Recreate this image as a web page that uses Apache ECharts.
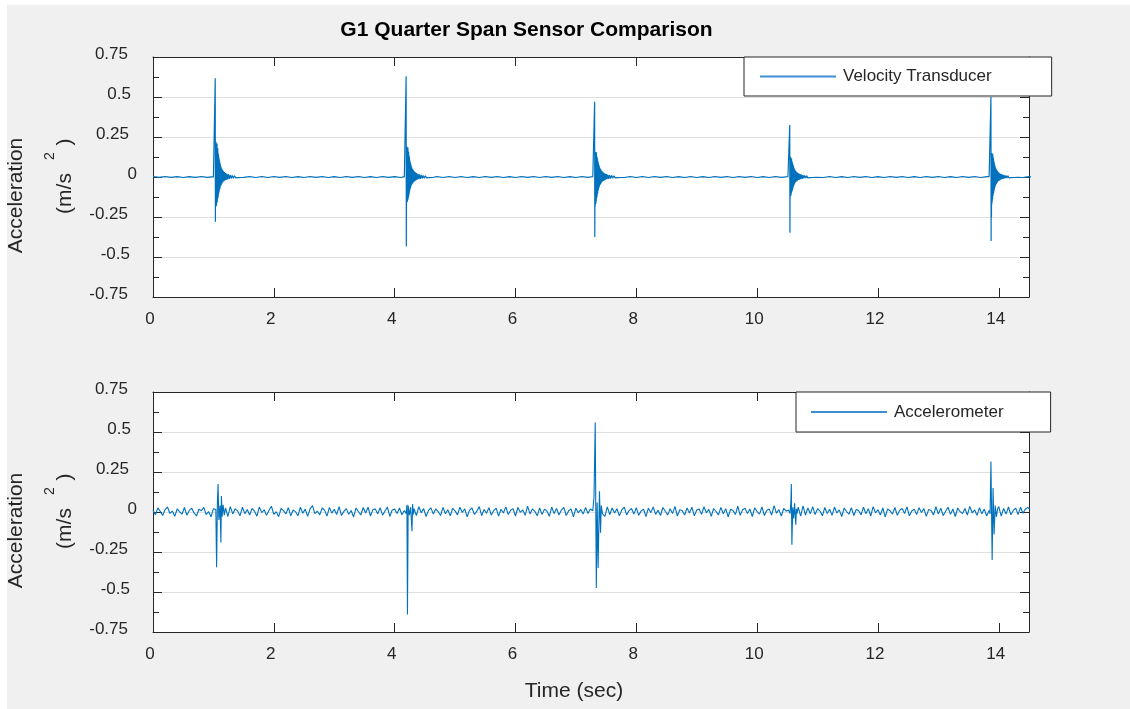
<!DOCTYPE html>
<html>
<head>
<meta charset="utf-8">
<title>G1 Quarter Span Sensor Comparison</title>
<script src="https://cdn.jsdelivr.net/npm/echarts@6/dist/echarts.min.js"></script>
<style>
html, body { margin: 0; padding: 0; background: #ffffff; }
#chart { position: absolute; left: 7px; top: 5px; width: 1123px; height: 704px; }
</style>
</head>
<body>
<div id="chart"></div>
<script>
// ---- Text ----
const titleText = 'G1 Quarter Span Sensor Comparison';
const timeAxisTitle = 'Time (sec)';
const accelAxisTitle = 'Acceleration';
const seriesNames = ['Velocity Transducer', 'Accelerometer'];

// ---- Axes ----
const timeRange = [0, 14.5];
const timeTickStep = 2;
const timeTickLabels = ['0', '2', '4', '6', '8', '10', '12', '14'];
const accelRange = [-0.75, 0.75];
const accelTickStep = 0.25;
const accelTickLabels = ['-0.75', '-0.5', '-0.25', '0', '0.25', '0.5', '0.75'];

// ---- Velocity transducer (m/s^2) ----
// Quiet record, one value every 0.1 s from t = 0; null where an impact record takes over.
const velQuietStep = 0.1;
const velQuiet = [
  0.002,-0.002,0.003,-0.002,0.002,-0.003,0.002,-0.002,0.003,-0.002,
  null,null,null,null,null,-0.002,0.003,-0.003,0.003,-0.003,
  0.003,-0.002,0.003,-0.003,0.002,-0.003,0.003,-0.002,0.003,-0.003,
  0.002,-0.003,0.003,-0.002,0.003,-0.003,0.002,-0.003,0.003,-0.002,
  0.002,-0.003,null,null,null,null,null,0.003,-0.003,0.003,
  -0.003,0.003,-0.003,0.002,-0.003,0.003,-0.002,0.003,-0.003,0.002,
  -0.003,0.003,-0.002,0.003,-0.003,0.003,-0.002,0.003,-0.003,0.002,
  -0.003,0.003,-0.002,null,null,null,null,null,-0.003,0.003,
  -0.003,0.003,-0.003,0.003,-0.002,0.003,-0.003,0.002,-0.003,0.003,
  -0.003,0.002,-0.003,0.003,-0.002,0.003,-0.003,0.003,-0.002,0.003,
  -0.003,0.002,-0.003,0.003,-0.002,null,null,null,null,null,
  0.003,-0.003,0.003,-0.003,0.002,-0.003,0.003,-0.002,0.003,-0.003,
  0.002,-0.003,0.003,-0.002,0.003,-0.003,0.002,-0.003,0.003,-0.002,
  0.003,-0.003,0.002,-0.003,0.003,-0.002,0.003,-0.003,0.002,null,
  null,null,null,null,-0.003,0.002,-0.002
];
// Impact responses, [time s, acceleration]
const velImpact1 = [
  [1.000,0.002],[1.020,-0.003],[1.026,0.008],[1.030,0.617],[1.033,-0.280],[1.036,0.140],
  [1.039,-0.186],[1.042,0.220],[1.045,-0.170],[1.048,0.205],[1.051,-0.180],[1.054,0.190],
  [1.057,-0.150],[1.060,0.210],[1.063,-0.160],[1.066,0.175],[1.069,-0.140],[1.072,0.180],
  [1.075,-0.130],[1.078,0.150],[1.081,-0.120],[1.084,0.140],[1.087,-0.105],[1.090,0.125],
  [1.094,-0.095],[1.098,0.110],[1.102,-0.080],[1.106,0.095],[1.110,-0.070],[1.115,0.080],
  [1.120,-0.058],[1.125,0.066],[1.131,-0.048],[1.137,0.054],[1.143,-0.040],[1.150,0.045],
  [1.157,-0.033],[1.165,0.037],[1.173,-0.027],[1.182,0.031],[1.191,-0.022],[1.201,0.025],
  [1.212,-0.018],[1.224,0.020],[1.236,-0.015],[1.249,0.016],[1.263,-0.012],[1.278,0.013],
  [1.294,-0.009],[1.311,0.010],[1.329,-0.007],[1.348,0.008],[1.368,-0.005],[1.390,0.006],
  [1.414,-0.004],[1.440,0.004],[1.466,-0.003]
];
const velImpact2 = [
  [4.160,0.002],[4.180,-0.003],[4.186,0.010],[4.190,0.630],[4.193,-0.435],[4.196,0.120],
  [4.199,-0.160],[4.202,0.190],[4.205,-0.150],[4.208,0.180],[4.211,-0.155],[4.214,0.170],
  [4.217,-0.135],[4.220,0.185],[4.223,-0.140],[4.226,0.160],[4.229,-0.125],[4.232,0.155],
  [4.235,-0.115],[4.238,0.135],[4.241,-0.105],[4.244,0.125],[4.247,-0.090],[4.250,0.110],
  [4.254,-0.080],[4.258,0.095],[4.262,-0.070],[4.266,0.082],[4.270,-0.060],[4.275,0.070],
  [4.280,-0.052],[4.285,0.060],[4.291,-0.044],[4.297,0.050],[4.303,-0.037],[4.310,0.042],
  [4.317,-0.031],[4.325,0.035],[4.333,-0.026],[4.342,0.030],[4.351,-0.021],[4.361,0.025],
  [4.372,-0.017],[4.384,0.020],[4.396,-0.014],[4.409,0.016],[4.423,-0.011],[4.438,0.013],
  [4.454,-0.009],[4.471,0.010],[4.489,-0.007],[4.508,0.008],[4.528,-0.005],[4.550,0.006],
  [4.574,-0.004],[4.600,0.004],[4.626,-0.003]
];
const velImpact3 = [
  [7.280,0.003],[7.300,-0.003],[7.306,0.009],[7.310,0.470],[7.313,-0.375],[7.316,0.100],
  [7.319,-0.185],[7.322,0.158],[7.325,-0.170],[7.328,0.150],[7.331,-0.165],[7.334,0.140],
  [7.337,-0.150],[7.340,0.155],[7.343,-0.135],[7.346,0.130],[7.349,-0.125],[7.352,0.125],
  [7.355,-0.110],[7.358,0.112],[7.361,-0.100],[7.364,0.100],[7.367,-0.088],[7.370,0.090],
  [7.374,-0.078],[7.378,0.080],[7.382,-0.068],[7.386,0.070],[7.390,-0.058],[7.395,0.060],
  [7.400,-0.050],[7.405,0.052],[7.411,-0.043],[7.417,0.045],[7.423,-0.036],[7.430,0.038],
  [7.437,-0.030],[7.445,0.032],[7.453,-0.025],[7.462,0.027],[7.471,-0.021],[7.481,0.022],
  [7.492,-0.017],[7.504,0.018],[7.516,-0.014],[7.529,0.015],[7.543,-0.011],[7.558,0.012],
  [7.574,-0.009],[7.591,0.010],[7.609,-0.007],[7.628,0.008],[7.648,-0.005],[7.670,0.006],
  [7.694,-0.004],[7.720,0.004],[7.746,-0.003]
];
const velImpact4 = [
  [10.510,0.003],[10.530,-0.003],[10.536,0.009],[10.540,0.325],[10.543,-0.348],[10.546,0.080],
  [10.549,-0.120],[10.552,0.127],[10.555,-0.110],[10.558,0.120],[10.561,-0.115],[10.564,0.110],
  [10.567,-0.100],[10.570,0.115],[10.573,-0.095],[10.576,0.100],[10.579,-0.088],[10.582,0.092],
  [10.585,-0.080],[10.588,0.085],[10.591,-0.072],[10.594,0.076],[10.597,-0.064],[10.600,0.068],
  [10.604,-0.056],[10.608,0.060],[10.612,-0.049],[10.616,0.052],[10.620,-0.042],[10.625,0.045],
  [10.630,-0.036],[10.635,0.039],[10.641,-0.031],[10.647,0.034],[10.653,-0.027],[10.660,0.029],
  [10.667,-0.023],[10.675,0.025],[10.683,-0.019],[10.692,0.021],[10.701,-0.016],[10.711,0.018],
  [10.722,-0.013],[10.734,0.015],[10.746,-0.011],[10.759,0.012],[10.773,-0.009],[10.788,0.010],
  [10.804,-0.007],[10.821,0.008],[10.839,-0.006],[10.858,0.006],[10.878,-0.004],[10.900,0.005],
  [10.924,-0.003],[10.950,0.003],[10.976,-0.002]
];
const velImpact5 = [
  [13.840,0.003],[13.860,-0.003],[13.866,0.010],[13.870,0.500],[13.873,-0.400],[13.876,0.090],
  [13.879,-0.250],[13.882,0.150],[13.885,-0.170],[13.888,0.140],[13.891,-0.155],[13.894,0.135],
  [13.897,-0.140],[13.900,0.145],[13.903,-0.120],[13.906,0.125],[13.909,-0.110],[13.912,0.115],
  [13.915,-0.098],[13.918,0.102],[13.921,-0.088],[13.924,0.090],[13.927,-0.076],[13.930,0.080],
  [13.934,-0.066],[13.938,0.070],[13.942,-0.058],[13.946,0.060],[13.950,-0.050],[13.955,0.052],
  [13.960,-0.043],[13.965,0.045],[13.971,-0.036],[13.977,0.038],[13.983,-0.030],[13.990,0.032],
  [13.997,-0.025],[14.005,0.027],[14.013,-0.021],[14.022,0.022],[14.031,-0.017],[14.041,0.018],
  [14.052,-0.014],[14.064,0.015],[14.076,-0.011],[14.089,0.012],[14.103,-0.009],[14.118,0.010],
  [14.134,-0.007],[14.151,0.008],[14.169,-0.006],[14.188,0.006],[14.208,-0.004],[14.230,0.005],
  [14.254,-0.003],[14.280,0.003],[14.306,-0.002]
];

// ---- Accelerometer (m/s^2) ----
// Background record, one value every 0.04 s from t = 0; null where an impact record takes over.
const accNoiseStep = 0.04;
const accNoise = [
  0.012,-0.018,0.026,0.004,-0.022,0.015,0.031,-0.009,0.006,-0.027,0.019,0.002,-0.014,0.028,-0.020,0.010,0.024,-0.006,-0.025,0.017,
  0.008,0.029,-0.016,0.003,-0.030,0.021,null,null,null,null,null,-0.028,0.034,-0.012,0.020,0.007,-0.024,0.030,-0.010,0.016,
  -0.019,0.023,0.005,-0.026,0.032,-0.004,0.014,-0.021,0.011,0.036,-0.015,0.002,-0.029,0.022,0.009,-0.012,0.027,-0.023,0.013,0.001,
  -0.024,0.030,-0.008,0.018,-0.027,0.020,0.040,-0.010,0.006,-0.018,0.025,0.012,-0.026,0.029,-0.007,0.017,-0.016,0.033,-0.022,0.004,
  0.021,-0.014,0.009,-0.031,0.024,0.003,-0.019,0.028,-0.006,0.030,-0.025,0.015,0.019,-0.012,0.027,-0.020,0.006,0.031,-0.028,0.013,
  0.018,-0.009,0.025,-0.017,null,null,null,null,null,-0.022,0.033,-0.005,0.021,-0.028,0.010,0.026,-0.013,0.019,0.002,-0.021,
  0.029,-0.011,0.014,-0.024,0.022,0.007,-0.018,0.030,-0.003,0.020,-0.030,0.012,0.025,-0.015,0.005,0.034,-0.023,0.016,-0.008,0.027,
  -0.020,0.009,0.024,-0.026,0.017,-0.006,0.032,-0.016,0.011,0.021,-0.025,0.028,-0.002,0.014,-0.021,0.037,-0.012,0.019,0.004,-0.024,
  0.025,-0.015,0.018,0.006,-0.027,0.031,-0.010,0.022,-0.019,0.012,0.029,-0.022,0.008,0.019,-0.030,0.024,-0.005,0.016,-0.013,0.028,
  -0.010,0.019,null,null,null,null,null,-0.027,0.032,-0.016,0.025,-0.006,0.020,-0.024,0.014,0.030,-0.018,0.009,0.022,-0.013,
  0.027,-0.021,0.007,0.017,-0.029,0.024,-0.004,0.031,-0.015,0.011,-0.022,0.028,0.005,-0.018,0.021,-0.010,0.035,-0.025,0.014,0.008,
  -0.019,0.025,-0.007,0.030,-0.024,0.013,0.019,-0.015,0.033,-0.005,0.016,-0.027,0.022,0.003,-0.018,0.029,-0.011,0.021,-0.031,0.017,
  0.009,-0.016,0.036,-0.021,0.014,0.024,-0.010,0.019,-0.028,0.027,0.002,-0.013,0.032,-0.022,0.011,0.018,-0.019,0.040,-0.008,0.015,
  -0.025,0.022,0.005,null,null,null,null,0.030,-0.026,0.038,-0.019,0.025,-0.011,0.034,-0.016,0.021,0.006,-0.024,0.028,-0.010,
  0.017,-0.021,0.031,-0.006,0.013,-0.028,0.024,0.003,-0.014,0.027,-0.022,0.016,0.010,-0.018,0.030,-0.011,0.021,-0.025,0.033,-0.005,
  0.014,-0.019,0.025,-0.030,0.019,0.008,-0.013,0.028,-0.021,0.011,0.022,-0.010,0.032,-0.024,0.006,0.018,-0.016,0.027,-0.003,0.021,
  -0.027,0.016,0.010,-0.018,0.033,-0.013,0.024,-0.022,0.005,0.030,-0.015,0.019,-0.028,0.025,0.002,-0.010,0.022,-0.019,0.035,-0.006,
  0.013,-0.021,0.027,-0.011,0.018,-0.025,null,null,null,null,0.034,-0.026,0.022,-0.013,0.031,-0.017,0.010,0.024,-0.016,0.030,
  -0.008,0.019,0.028,0.016
];
const accImpact1 = [
  [1.040,0.015],[1.053,-0.345],[1.066,0.060],[1.077,0.175],[1.090,-0.050],[1.110,0.040],
  [1.124,-0.190],[1.132,0.100],[1.145,-0.030],[1.160,0.045],[1.180,-0.020],[1.200,0.025]
];
const accImpact2 = [
  [4.160,0.010],[4.190,-0.010],[4.203,0.045],[4.212,-0.640],[4.224,0.040],[4.245,-0.020],
  [4.265,0.030],[4.287,-0.120],[4.297,0.050],[4.310,-0.015],[4.320,0.020]
];
const accImpact3 = [
  [7.280,0.008],[7.300,0.095],[7.320,0.560],[7.338,-0.475],[7.352,0.060],[7.368,-0.350],
  [7.390,0.130],[7.408,-0.130],[7.420,0.040],[7.440,-0.010]
];
const accImpact4 = [
  [10.520,0.012],[10.545,-0.010],[10.558,0.060],[10.566,0.175],[10.575,-0.205],[10.590,0.030],
  [10.605,-0.040],[10.620,0.055],[10.640,-0.080],[10.650,0.020],[10.660,-0.010]
];
const accImpact5 = [
  [13.840,0.010],[13.856,-0.012],[13.870,0.315],[13.890,-0.300],[13.905,0.150],[13.922,-0.140],
  [13.940,0.040],[13.960,-0.030],[13.980,0.020]
];

// ---- Build time series: sampled background plus impact records, in time order ----
function buildTrace(step, background, impacts) {
  const pts = [];
  background.forEach((v, i) => {
    if (v !== null) pts.push([Math.round(i * step * 1000) / 1000, v]);
  });
  impacts.forEach(rec => rec.forEach(p => pts.push([p[0], p[1]])));
  pts.sort((a, b) => a[0] - b[0]);
  return pts;
}
const velTrace = buildTrace(velQuietStep, velQuiet, [velImpact1, velImpact2, velImpact3, velImpact4, velImpact5]);
const accTrace = buildTrace(accNoiseStep, accNoise, [accImpact1, accImpact2, accImpact3, accImpact4, accImpact5]);

// ---- Styling ----
const font = "'Liberation Sans', Arial, Helvetica, sans-serif";
const ink = '#262626';
const lineBlue = '#0072BD';
const gridLeft = 146, gridWidth = 876, gridHeight = 240;
const gridTops = [52, 387];

// right-edge nudges of the y tick labels
const yLabelPad = { '0.75': 9, '0.5': 6, '0.25': 8, '0': 0, '-0.25': 9, '-0.5': 7, '-0.75': 9 };
const yRich = {};
[0, 6, 7, 8, 9].forEach(p => {
  yRich['p' + p] = { padding: [0, p, 6, 0], fontSize: 17, fontFamily: font, color: ink };
});

function accelLabel(v) {
  const idx = Math.round((v - accelRange[0]) / accelTickStep);
  return accelTickLabels[idx];
}
function timeLabel(v) {
  if (Math.abs(v / timeTickStep - Math.round(v / timeTickStep)) > 1e-6) return '';
  const s = timeTickLabels[Math.round(v / timeTickStep)];
  return s === undefined ? '' : s;
}

function xAxesFor(gridIndex) {
  const base = {
    type: 'value', gridIndex: gridIndex, min: timeRange[0], max: timeRange[1], interval: timeTickStep,
    axisLine: { show: true, onZero: false, lineStyle: { color: ink, width: 1 } },
    axisTick: { show: true, inside: true, length: 9, lineStyle: { color: ink, width: 1 } },
    splitLine: { show: false }
  };
  return [
    Object.assign({}, base, {
      position: 'bottom',
      axisLabel: {
        show: true, margin: 14, fontSize: 17, fontFamily: font, color: ink,
        padding: [0, 6, 0, 0], showMaxLabel: false, formatter: timeLabel
      }
    }),
    Object.assign({}, base, { position: 'top', axisLabel: { show: false } })
  ];
}

function yAxesFor(gridIndex) {
  const base = {
    type: 'value', gridIndex: gridIndex, min: accelRange[0], max: accelRange[1], interval: accelTickStep,
    axisLine: { show: true, onZero: false, lineStyle: { color: ink, width: 1 } },
    axisTick: { show: true, inside: true, length: 9, lineStyle: { color: ink, width: 1 } },
    minorTick: { show: true, splitNumber: 2, length: 6, lineStyle: { color: ink, width: 1 } }
  };
  return [
    Object.assign({}, base, {
      position: 'left',
      splitLine: { show: true, lineStyle: { color: '#dfdfdf', width: 1 } },
      axisLabel: {
        show: true, margin: 16, fontSize: 17, fontFamily: font, color: ink,
        formatter: v => {
          const s = accelLabel(v);
          return '{p' + (yLabelPad[s] || 0) + '|' + s + '}';
        },
        rich: yRich
      }
    }),
    Object.assign({}, base, { position: 'right', splitLine: { show: false }, axisLabel: { show: false } })
  ];
}

// rotated y-axis title with the superscript unit
function accelTitleFor(gridIndex) {
  const c = gridTops[gridIndex] + gridHeight / 2;
  const rot = Math.PI / 2;
  const t = (x, y, text, size) => ({
    type: 'text', x: x, y: y, rotation: rot,
    style: { text: text, fontSize: size, fontFamily: font, fill: ink, align: 'center', verticalAlign: 'middle' }
  });
  return [
    t(9, c + 18.5, accelAxisTitle, 21),
    t(58, c + 16.5, '(m/s', 21),
    t(43, c - 21, '2', 14),
    t(58, c - 35, ')', 21)
  ];
}

function legendFor(name, left, top, padding) {
  return {
    data: [name], left: left, top: top, orient: 'horizontal',
    icon: 'rect', itemWidth: 76, itemHeight: 2, itemGap: 0,
    padding: padding, backgroundColor: '#ffffff', borderColor: ink, borderWidth: 1, borderRadius: 0,
    selectedMode: false,
    itemStyle: { color: '#3d8fd1' },
    textStyle: { fontSize: 17, fontFamily: font, color: ink, lineHeight: 17, padding: [0, 0, 0, 2] }
  };
}

const chart = echarts.init(document.getElementById('chart'), null, { renderer: 'canvas' });
chart.setOption({
  backgroundColor: '#f0f0f0',
  animation: false,
  textStyle: { fontFamily: font },
  grid: gridTops.map(top => ({
    left: gridLeft, top: top, width: gridWidth, height: gridHeight,
    show: true, backgroundColor: '#ffffff', borderWidth: 0
  })),
  xAxis: xAxesFor(0).concat(xAxesFor(1)),
  yAxis: yAxesFor(0).concat(yAxesFor(1)),
  legend: [
    legendFor(seriesNames[0], 737, 52, [11, 60, 11, 16]),
    legendFor(seriesNames[1], 789, 387, [11.5, 47, 11.5, 15])
  ],
  graphic: [
    {
      type: 'text', x: 519.5, y: 25,
      style: { text: titleText, fontSize: 21, fontWeight: 'bold', fontFamily: font, fill: '#000000', align: 'center', verticalAlign: 'middle' }
    },
    {
      type: 'text', x: 567, y: 686,
      style: { text: timeAxisTitle, fontSize: 21, fontFamily: font, fill: ink, align: 'center', verticalAlign: 'middle' }
    }
  ].concat(accelTitleFor(0), accelTitleFor(1)),
  series: [
    {
      name: seriesNames[0], type: 'line', xAxisIndex: 0, yAxisIndex: 0,
      data: velTrace, showSymbol: false, symbol: 'none', clip: true,
      lineStyle: { color: lineBlue, width: 1.2 }, itemStyle: { color: lineBlue }
    },
    {
      name: seriesNames[1], type: 'line', xAxisIndex: 2, yAxisIndex: 2,
      data: accTrace, showSymbol: false, symbol: 'none', clip: true,
      lineStyle: { color: lineBlue, width: 1.1 }, itemStyle: { color: lineBlue }
    }
  ]
});
</script>
</body>
</html>
